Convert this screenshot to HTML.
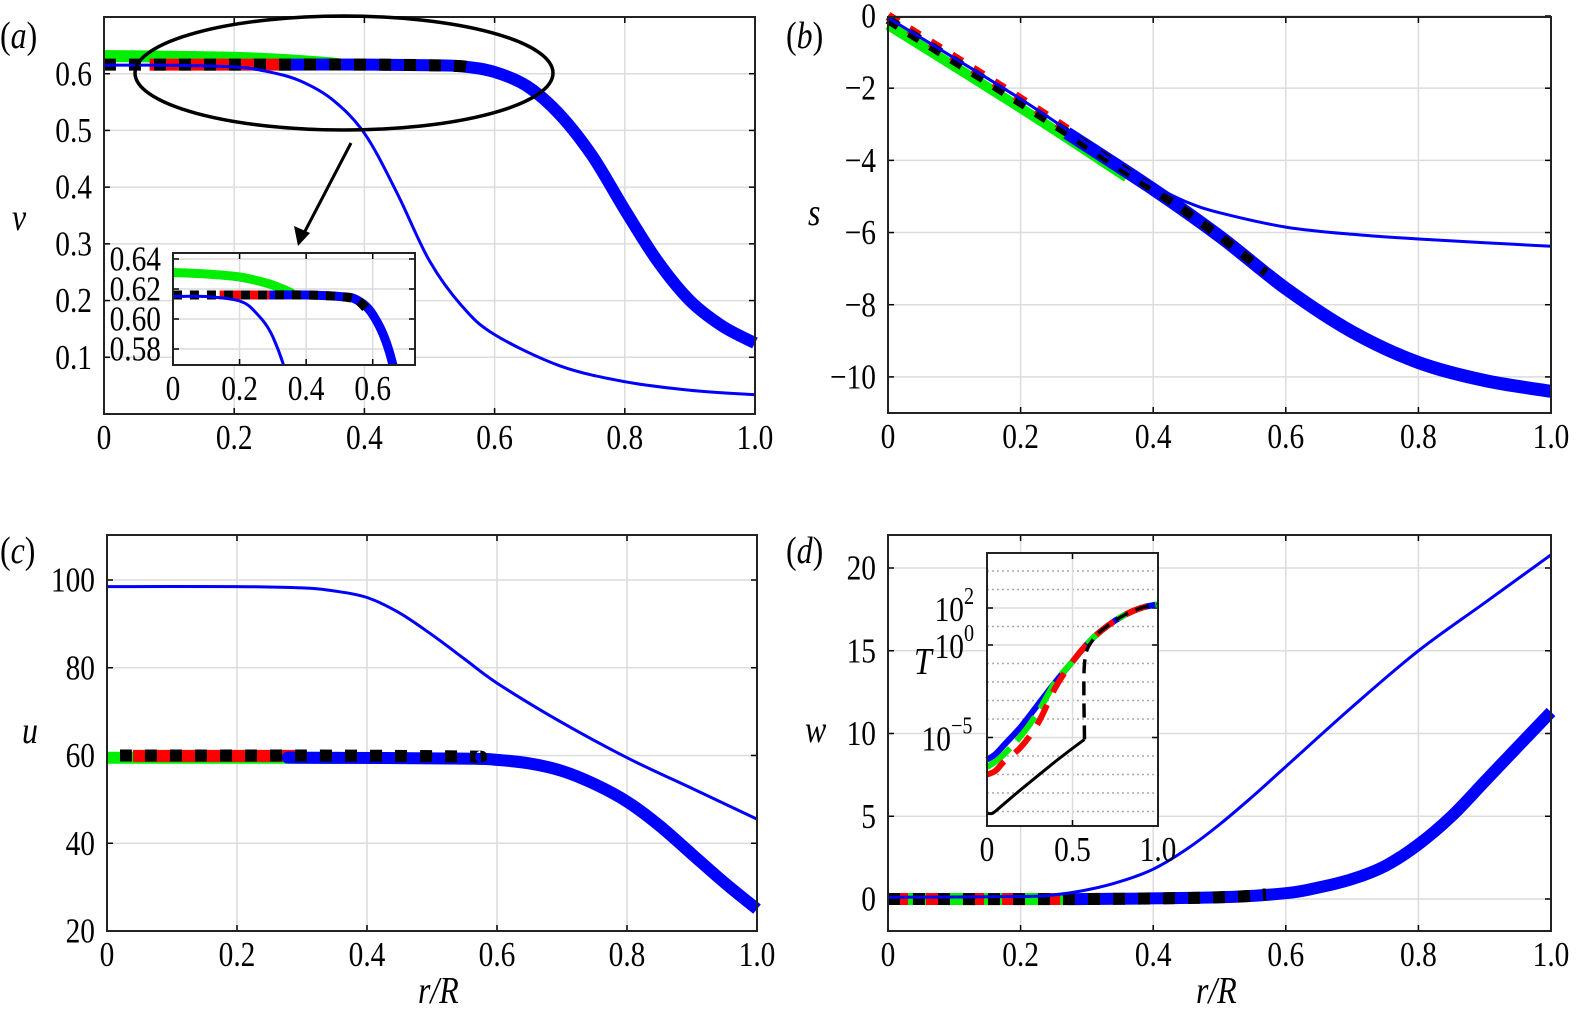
<!DOCTYPE html>
<html><head><meta charset="utf-8">
<style>
html,body{margin:0;padding:0;background:#fff;overflow:hidden;width:1577px;height:1024px;}
svg{display:block;}
text{font-family:"Liberation Serif","Times New Roman",serif;fill:#000;}
</style></head>
<body>
<svg id="fig" width="1577" height="1024" viewBox="0 0 1577 1024" xmlns="http://www.w3.org/2000/svg"></svg>
<script>
// ---------- data ----------
// panel a: v vs r/R
const aThinR = [0,0.1,0.2,0.25,0.3,0.35,0.4,0.45,0.5,0.55,0.6,0.7,0.8,0.9,1.0];
const aThinV = [0.615,0.615,0.612,0.604,0.588,0.555,0.495,0.39,0.27,0.19,0.14,0.085,0.057,0.042,0.034];
const aThickR = [0,0.2,0.4,0.5,0.55,0.6,0.65,0.7,0.75,0.8,0.85,0.9,0.95,1.0];
const aThickV = [0.616,0.616,0.616,0.615,0.613,0.603,0.578,0.528,0.455,0.36,0.27,0.2,0.155,0.125];
const aGreenR = [0,0.1,0.2,0.28,0.33,0.36];
const aGreenV = [0.631,0.630,0.628,0.624,0.62,0.617];
// panel b: s
const bThickR = [0,0.2,0.4,0.5,0.6,0.7,0.8,0.9,1.0];
const bThickS = [-0.1,-2.4,-4.8,-6.1,-7.55,-8.75,-9.6,-10.1,-10.4];
const bThinR = [0,0.2,0.35,0.4,0.45,0.5,0.6,0.7,0.8,0.9,1.0];
const bThinS = [-0.05,-2.3,-4.15,-4.7,-5.15,-5.45,-5.85,-6.05,-6.18,-6.28,-6.38];
// panel c: u
const cThinR = [0,0.2,0.3,0.35,0.4,0.45,0.5,0.55,0.6,0.7,0.8,0.9,1.0];
const cThinU = [98.5,98.5,98.2,97.5,96,92.5,87.5,82,76.5,67.5,59.5,52.5,45.5];
const cThickR = [0,0.3,0.55,0.6,0.65,0.7,0.75,0.8,0.85,0.9,0.95,1.0];
const cThickU = [59.5,59.5,59.3,59,58.2,56.5,53.5,49.5,44,37.5,31,25];
// panel d: w
const dThinR = [0,0.2,0.25,0.3,0.35,0.4,0.45,0.5,0.55,0.6,0.7,0.8,0.9,1.0];
const dThinW = [0.1,0.15,0.25,0.55,1.05,1.8,3.0,4.5,6.2,8.0,11.6,15.0,17.9,20.8];
const dThickR = [0,0.3,0.5,0.6,0.65,0.7,0.75,0.8,0.85,0.9,0.95,1.0];
const dThickW = [0,0,0.1,0.35,0.7,1.2,2.0,3.3,5.0,7.1,9.2,11.3];
// panel d inset: log10 T
const tColR = [0,0.05,0.1,0.2,0.3,0.4,0.5,0.6,0.7,0.8,0.9,1.0];
const tBlue = [-6.2,-5.9,-5.4,-4.4,-3.2,-2.0,-0.9,0.2,1.0,1.6,2.0,2.2];
const tGreen = [-6.6,-6.3,-5.9,-4.9,-3.6,-2.0,-0.9,0.2,1.0,1.6,2.0,2.2];
const tRed = [-7.0,-6.8,-6.3,-5.5,-4.2,-2.3,-0.9,0.2,1.0,1.6,2.0,2.2];
const tBlkR = [0,0.03,0.06,0.2,0.4,0.57];
const tBlk = [-9.1,-9.1,-8.9,-7.8,-6.3,-5.1];
const tBlkDR = [0.57,0.57,0.62,0.7,0.8,0.9,1.0];
const tBlkD = [-5.1,-1.0,0.3,1.0,1.6,2.0,2.2];
// ticks
const xTicks = [0,0.2,0.4,0.6,0.8,1.0];
const xTickLabels = ["0","0.2","0.4","0.6","0.8","1.0"];
const aYTicks = [0.1,0.2,0.3,0.4,0.5,0.6];
const bYTicks = [0,-2,-4,-6,-8,-10];
const bYLabels = ["0","\u22122","\u22124","\u22126","\u22128","\u221210"];
const cYTicks = [20,40,60,80,100];
const dYTicks = [0,5,10,15,20];
const aInXTicks = [0,0.2,0.4,0.6];
const aInYTicks = [0.58,0.60,0.62,0.64];
const aInYLabels = ["0.58","0.60","0.62","0.64"];
const dInXTicks = [0,0.5,1.0];
const dInXLabels = ["0","0.5","1.0"];
const dInYMajor = [-5,0,2];
const dInYLabels = [["10","\u22125"],["10","0"],["10","2"]];

const NS="http://www.w3.org/2000/svg";
const svg=document.getElementById('fig');
const SX=0.84;
function mk(tag,attrs,parent){const e=document.createElementNS(NS,tag);for(const k in attrs)e.setAttribute(k,attrs[k]);(parent||svg).appendChild(e);return e;}
function txt(parent,x,y,s,size,anchor,italic){const t=mk('text',{x:0,y:0,transform:'translate('+x.toFixed(1)+','+y.toFixed(1)+') scale('+SX+',1)','font-size':size},parent);if(italic)t.setAttribute('font-style','italic');if(anchor)t.setAttribute('text-anchor',anchor);t.textContent=s;return t;}
function scale(d0,d1,p0,p1){return v=>p0+(v-d0)/(d1-d0)*(p1-p0);}
function pathD(xs,ys,sx,sy){
  const P=[];xs.forEach((x,i)=>{const px=sx(x),py=sy(ys[i]);if(P.length&&Math.abs(P[P.length-1][0]-px)<0.01&&Math.abs(P[P.length-1][1]-py)<0.01)return;P.push([px,py]);});
  let d='M'+P[0][0].toFixed(1)+','+P[0][1].toFixed(1);
  for(let i=0;i<P.length-1;i++){const p0=P[i-1]||P[i],p1=P[i],p2=P[i+1],p3=P[i+2]||p2;
    const c1=[p1[0]+(p2[0]-p0[0])/6,p1[1]+(p2[1]-p0[1])/6],c2=[p2[0]-(p3[0]-p1[0])/6,p2[1]-(p3[1]-p1[1])/6];
    d+='C'+c1[0].toFixed(1)+','+c1[1].toFixed(1)+' '+c2[0].toFixed(1)+','+c2[1].toFixed(1)+' '+p2[0].toFixed(1)+','+p2[1].toFixed(1);}
  return d;}
function sub(xs,ys,lo,hi){const X=[],Y=[];for(let i=0;i<xs.length-1;i++){const a=xs[i],b=xs[i+1];if(b<lo||a>hi)continue;const f=t=>ys[i]+(ys[i+1]-ys[i])*(t-a)/((b-a)||1);const s=Math.max(a,lo),e=Math.min(b,hi);if(!X.length){X.push(s);Y.push(f(s));}X.push(e);Y.push(f(e));}return [X,Y];}
function line(g,xs,ys,sx,sy,color,w,dash,name){const p=mk('path',{d:pathD(xs,ys,sx,sy),fill:'none',stroke:color,'stroke-width':w,'stroke-linejoin':'round'},g);if(dash)p.setAttribute('stroke-dasharray',dash);


return p;}

function axes(g,L,R,T,B,sx,sy,xt,xl,yt,yl,name,fs){
  const grid=mk('g',{},g);
  
  
  xt.forEach(v=>mk('line',{x1:sx(v),x2:sx(v),y1:T,y2:B,stroke:'#dcdcdc','stroke-width':1.5},grid));
  yt.forEach(v=>mk('line',{x1:L,x2:R,y1:sy(v),y2:sy(v),stroke:'#dcdcdc','stroke-width':1.5},grid));
  xt.forEach((v,i)=>{const t=txt(g,sx(v),B+fs,xl[i],fs,'middle');
  
  
  mk('line',{x1:sx(v),x2:sx(v),y1:B,y2:B-6,stroke:'#000','stroke-width':1.5},g);mk('line',{x1:sx(v),x2:sx(v),y1:T,y2:T+6,stroke:'#000','stroke-width':1.5},g);});
  yt.forEach((v,i)=>{if(yl){const t=txt(g,L-12,sy(v)+fs*0.33,yl[i],fs,'end');
  
  }
  mk('line',{x1:L,x2:L+6,y1:sy(v),y2:sy(v),stroke:'#000','stroke-width':1.5},g);mk('line',{x1:R,x2:R-6,y1:sy(v),y2:sy(v),stroke:'#000','stroke-width':1.5},g);});
}
function frame(g,L,R,T,B,name){const r=mk('rect',{x:L,y:T,width:R-L,height:B-T,fill:'none',stroke:'#222','stroke-width':2},g);

}
function plabel(g,x,y,letter,name){const t=mk('text',{x:0,y:0,transform:'translate('+x+','+y+') scale('+SX+',1)','font-size':38},g);
t.appendChild(document.createTextNode('('));const s=mk('tspan',{'font-style':'italic'},t);s.textContent=letter;t.appendChild(document.createTextNode(')'));

}
function ylab(g,x,y,s,name){const t=txt(g,x,y,s,38,null,true);

}

const BLUE='#0000ff',GREEN='#00ee00',RED='#ff0000',BLK='#000';
const DASH='12 13';
const FS=35;

// ===== Panel A =====
{
const g=mk('g',{});


const L=104,R=755,T=17,B=414;
const sx=scale(0,1,L,R), sy=scale(0,0.7,B,T);
axes(g,L,R,T,B,sx,sy,xTicks,xTickLabels,aYTicks,aYTicks.map(v=>v.toFixed(1)),'panel-a',FS);
line(g,aGreenR,aGreenV,sx,sy,GREEN,12,null,'a-green-thick');
let [X,Y]=sub(aThickR,aThickV,0.07,0.28);line(g,X,Y,sx,sy,RED,12,null,'a-red-thick');
[X,Y]=sub(aThickR,aThickV,0.28,1.0);line(g,X,Y,sx,sy,BLUE,12,null,'a-blue-thick');
[X,Y]=sub(aThickR,aThickV,0,0.565);line(g,X,Y,sx,sy,BLK,12,DASH,'a-black-dashed');
line(g,aThinR,aThinV,sx,sy,BLUE,3,null,'a-blue-thin');
frame(g,L,R,T,B,'panel-a');
plabel(g,0,48,'a','panel-a-label');
ylab(g,12,230,'v','a-y-axis-title');
const el=mk('ellipse',{cx:344,cy:73,rx:209,ry:57,fill:'none',stroke:'#000','stroke-width':3.5},g);


const ar=mk('g',{},g);


mk('line',{x1:351,y1:143,x2:303,y2:235,stroke:'#000','stroke-width':3},ar);
mk('polygon',{points:'298,246 294,226 310,233',fill:'#000'},ar);
// inset
const iL=173,iR=415,iT=253,iB=365;
const ix=scale(0,0.727,iL,iR), iy=scale(0.58,0.64,349,259);
const ig=mk('g',{},g);


mk('rect',{x:iL,y:iT,width:iR-iL,height:iB-iT,fill:'#fff'},ig);
const cp=mk('clipPath',{id:'clipA'},ig);mk('rect',{x:iL,y:iT,width:iR-iL,height:iB-iT},cp);
axes(ig,iL,iR,iT,iB,ix,iy,aInXTicks,["0","0.2","0.4","0.6"],aInYTicks,aInYLabels,'panel-a-inset',FS);
const cg=mk('g',{'clip-path':'url(#clipA)'},ig);
line(cg,aGreenR,aGreenV,ix,iy,GREEN,9,null,'a-inset-green');
[X,Y]=sub(aThickR,aThickV,0.14,0.29);line(cg,X,Y,ix,iy,RED,9,null,'a-inset-red');
[X,Y]=sub(aThickR,aThickV,0.29,1.0);line(cg,X,Y,ix,iy,BLUE,9,null,'a-inset-blue');
[X,Y]=sub(aThickR,aThickV,0,0.58);line(cg,X,Y,ix,iy,BLK,9,'9 8','a-inset-black');
line(cg,aThinR,aThinV,ix,iy,BLUE,3,null,'a-inset-blue-thin');
frame(ig,iL,iR,iT,iB,'panel-a-inset');
}
// ===== Panel B =====
{
const g=mk('g',{});


const L=888,R=1551,T=17,B=413;
const sx=scale(0,1,L,R), sy=scale(-11,0,B,16);
axes(g,L,R,T,B,sx,sy,xTicks,xTickLabels,bYTicks,bYLabels,'panel-b',FS);
let [X,Y]=sub(bThickR,bThickS,0,0.36);line(g,X,Y.map(v=>v-0.15),sx,sy,GREEN,10,null,'b-green-thick');
[X,Y]=sub(bThickR,bThickS,0,0.28);line(g,X,Y.map(v=>v+0.1),sx,sy,RED,9,'12 13','b-red');
[X,Y]=sub(bThickR,bThickS,0.27,1.0);line(g,X,Y,sx,sy,BLUE,13,null,'b-blue-thick');
[X,Y]=sub(bThickR,bThickS,0,0.57);line(g,X,Y,sx,sy,BLK,9,'12 13','b-black-dashed');
line(g,bThinR,bThinS,sx,sy,BLUE,3,null,'b-blue-thin');
frame(g,L,R,T,B,'panel-b');
plabel(g,786,48,'b','panel-b-label');
ylab(g,808,225,'s','b-y-axis-title');
}
// ===== Panel C =====
{
const g=mk('g',{});


const L=107,R=757,T=535,B=931;
const sx=scale(0,1,L,R), sy=scale(20,100,B,580);
axes(g,L,R,T,B,sx,sy,xTicks,xTickLabels,cYTicks,cYTicks.map(String),'panel-c',FS);
let [X,Y]=sub(cThickR,cThickU,0,0.36);line(g,X,Y,sx,sy,GREEN,12,null,'c-green-thick');
[X,Y]=sub(cThickR,cThickU,0.04,0.29);line(g,X,Y.map(v=>v+0.4),sx,sy,RED,12,null,'c-red');
[X,Y]=sub(cThickR,cThickU,0.29,1.0);line(g,X,Y,sx,sy,BLUE,12,null,'c-blue-thick');
[X,Y]=sub(cThickR,cThickU,0.02,0.57);line(g,X,Y.map(v=>v+0.5),sx,sy,BLK,12,DASH,'c-black-dashed');
line(g,cThinR,cThinU,sx,sy,BLUE,3,null,'c-blue-thin');
frame(g,L,R,T,B,'panel-c');
plabel(g,0,563,'c','panel-c-label');
ylab(g,22,743,'u','c-y-axis-title');
const t=txt(g,418,1003,'r/R',38,null,true);


}
// ===== Panel D =====
{
const g=mk('g',{});


const L=888,R=1551,T=535,B=931;
const sx=scale(0,1,L,R), sy=scale(0,20,899,568);
axes(g,L,R,T,B,sx,sy,xTicks,xTickLabels,dYTicks,dYTicks.map(String),'panel-d',FS);
let [X,Y]=sub(dThickR,dThickW,0,0.28);line(g,X,Y,sx,sy,GREEN,12,null,'d-green-thick');
[X,Y]=sub(dThickR,dThickW,0,0.28);line(g,X,Y,sx,sy,RED,12,'20 18','d-red');
[X,Y]=sub(dThickR,dThickW,0.27,1.0);line(g,X,Y,sx,sy,BLUE,12,null,'d-blue-thick');
[X,Y]=sub(dThickR,dThickW,0,0.57);line(g,X,Y,sx,sy,BLK,12,DASH,'d-black-dashed');
line(g,dThinR,dThinW,sx,sy,BLUE,3,null,'d-blue-thin');
frame(g,L,R,T,B,'panel-d');
plabel(g,786,563,'d','panel-d-label');
ylab(g,805,742,'w','d-y-axis-title');
const t=txt(g,1196,1003,'r/R',38,null,true);


// inset
const iL=987,iR=1158,iT=553,iB=826;
const ix=scale(0,1,iL,iR), iy=scale(0,2,645,608);
const ig=mk('g',{},g);


mk('rect',{x:iL,y:iT,width:iR-iL,height:iB-iT,fill:'#fff'},ig);
for(let k=-10;k<=5;k++){if(dInYMajor.includes(k))continue;const y=iy(k);if(y<iT+3||y>iB-3)continue;mk('line',{x1:iL,x2:iR,y1:y,y2:y,stroke:'#aaa','stroke-width':1.5,'stroke-dasharray':'2 3'},ig);}
axes(ig,iL,iR,iT,iB,ix,iy,dInXTicks,dInXLabels,dInYMajor,null,'panel-d-inset',FS);
dInYMajor.forEach((v,i)=>{const ex=dInYLabels[i][1];const ew=ex.length>1?26:13;
const t=txt(ig,iL-10-ew,iy(v)+13,dInYLabels[i][0],FS,'end');


const s=txt(ig,iL-10-ew,iy(v)-4,ex,24,null);

});
const T2=txt(ig,914,674,'T',38,null,true);


line(ig,tColR,tBlue,ix,iy,BLUE,6,null,'T-blue');
line(ig,tColR,tGreen,ix,iy,GREEN,6,'30 10','T-green');
line(ig,tColR,tRed,ix,iy,RED,6,'22 14','T-red');
line(ig,tBlkR,tBlk,ix,iy,BLK,3,null,'T-black-solid');
line(ig,tBlkDR,tBlkD,ix,iy,BLK,3.5,'14 8','T-black-dashed');
frame(ig,iL,iR,iT,iB,'panel-d-inset');
}
</script>
</body></html>
